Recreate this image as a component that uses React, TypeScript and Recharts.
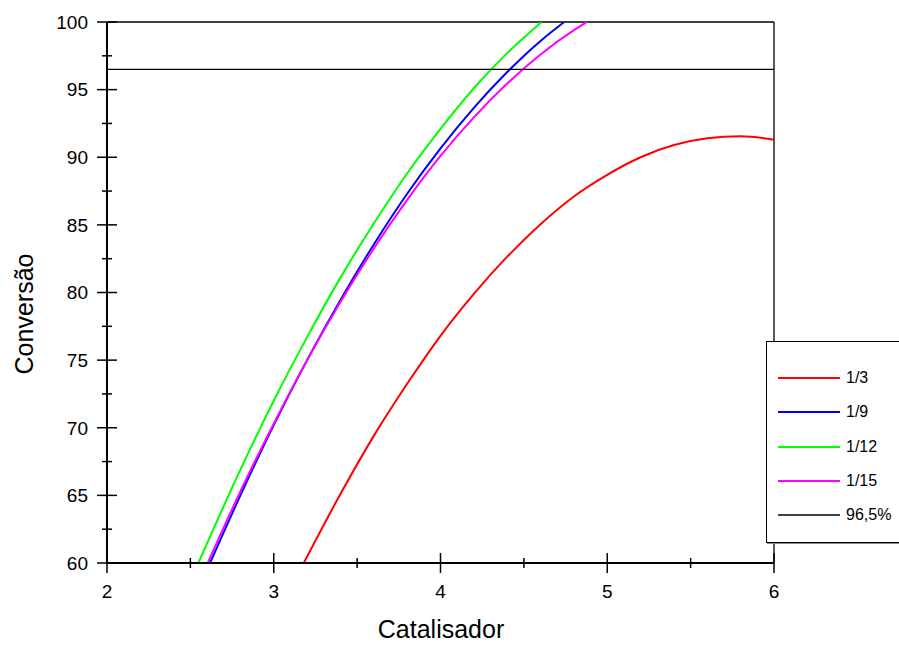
import React from 'react';
import { LineChart, Line, XAxis, YAxis, ReferenceLine } from 'recharts';

// Conversão versus catalisador for four molar ratios, plus the 96,5% target
const red13 = [
  { x: 3.18, y: 60 }, { x: 3.4, y: 65.1 }, { x: 3.6, y: 69.4 }, { x: 3.8, y: 73.25 },
  { x: 4.0, y: 76.8 }, { x: 4.2, y: 79.9 }, { x: 4.4, y: 82.65 }, { x: 4.6, y: 85.05 },
  { x: 4.8, y: 87.1 }, { x: 5.0, y: 88.7 }, { x: 5.2, y: 90.0 }, { x: 5.4, y: 90.9 },
  { x: 5.6, y: 91.4 }, { x: 5.8, y: 91.55 }, { x: 6.0, y: 91.3 },
];
const blue19 = [
  { x: 2.618, y: 60 }, { x: 2.8, y: 65.0 }, { x: 3.0, y: 70.2 }, { x: 3.2, y: 75.0 },
  { x: 3.4, y: 79.45 }, { x: 3.6, y: 83.55 }, { x: 3.8, y: 87.3 }, { x: 4.0, y: 90.65 },
  { x: 4.2, y: 93.65 }, { x: 4.4, y: 96.3 }, { x: 4.6, y: 98.6 }, { x: 4.742, y: 100 },
];
const green112 = [
  { x: 2.548, y: 60 }, { x: 2.8, y: 66.9 }, { x: 3.0, y: 72.0 }, { x: 3.2, y: 76.7 },
  { x: 3.4, y: 81.1 }, { x: 3.6, y: 85.1 }, { x: 3.8, y: 88.8 }, { x: 4.0, y: 92.1 },
  { x: 4.2, y: 95.1 }, { x: 4.4, y: 97.7 }, { x: 4.607, y: 100 },
];
const magenta115 = [
  { x: 2.604, y: 60 }, { x: 2.8, y: 65.3 }, { x: 3.0, y: 70.3 }, { x: 3.2, y: 75.0 },
  { x: 3.4, y: 79.3 }, { x: 3.6, y: 83.25 }, { x: 3.8, y: 86.85 }, { x: 4.0, y: 90.1 },
  { x: 4.2, y: 92.95 }, { x: 4.4, y: 95.45 }, { x: 4.6, y: 97.6 }, { x: 4.8, y: 99.4 },
  { x: 4.877, y: 100 },
];
const target = [{ x: 2, y: 96.5 }, { x: 6, y: 96.5 }];

const seriesNames = ['1/3', '1/9', '1/12', '1/15', '96,5%'];
const seriesColors = ['#ff0000', '#0000ff', '#00ff00', '#ff00ff', '#000000'];
const seriesData = [red13, blue19, green112, magenta115, target];

const xTicks = [2, 2.5, 3, 3.5, 4, 4.5, 5, 5.5, 6];
const yTicks = [60, 62.5, 65, 67.5, 70, 72.5, 75, 77.5, 80, 82.5, 85, 87.5, 90, 92.5, 95, 97.5, 100];

const FONT = 'Arial, "Liberation Sans", sans-serif';

const XTick = (props: any) => {
  const { x, y, payload } = props;
  const v = payload.value as number;
  const major = Number.isInteger(v);
  const len = major ? 10 : 5;
  return (
    <g>
      <line x1={x} x2={x} y1={y - len} y2={y + len} stroke="#000" strokeWidth={1.5} />
      {major && (
        <text x={x} y={y + 35} textAnchor="middle" fontSize={19} fontFamily={FONT} fill="#000">
          {v}
        </text>
      )}
    </g>
  );
};

const YTick = (props: any) => {
  const { x, y, payload } = props;
  const v = payload.value as number;
  const major = v % 5 === 0;
  const len = major ? 10 : 5;
  return (
    <g>
      <line x1={x - len} x2={x + len} y1={y} y2={y} stroke="#000" strokeWidth={1.5} />
      {major && (
        <text x={x - 19} y={y + 6.8} textAnchor="end" fontSize={19} fontFamily={FONT} fill="#000">
          {v}
        </text>
      )}
    </g>
  );
};

function LegendBox() {
  return (
    <div
      style={{
        position: 'absolute',
        left: 766,
        top: 341,
        width: 140,
        height: 202,
        border: '1px solid #000',
        boxShadow: '1px 1px 0 #888',
        background: '#fff',
        boxSizing: 'border-box',
        fontFamily: FONT,
      }}
    >
      {seriesNames.map((name, i) => (
        <div
          key={name}
          style={{ position: 'absolute', left: 11, top: 26 + i * 34.3, height: 20, display: 'flex', alignItems: 'center' }}
        >
          <svg width={62} height={4} style={{ display: 'block' }}>
            <line x1={0} x2={62} y1={2} y2={2} stroke={seriesColors[i]} strokeWidth={i === 4 ? 1.5 : 2} />
          </svg>
          <span style={{ marginLeft: 6, fontSize: 16, color: '#000', lineHeight: '20px' }}>{name}</span>
        </div>
      ))}
    </div>
  );
}

export default function App() {
  return (
    <div style={{ position: 'absolute', left: 0, top: 0, width: 899, height: 646, overflow: 'hidden', background: '#fff' }}>
      <LineChart width={899} height={646} margin={{ top: 22, right: 125, bottom: 0, left: 0 }}>
        <XAxis
          type="number"
          dataKey="x"
          domain={[2, 6]}
          ticks={xTicks}
          interval={0}
          height={83}
          tickSize={0}
          tickMargin={0}
          tickLine={false}
          axisLine={{ stroke: '#000', strokeWidth: 2 }}
          tick={<XTick />}
          allowDataOverflow
          label={{
            content: () => (
              <text x={441} y={638} textAnchor="middle" fontSize={25} fontFamily={FONT} fill="#000">
                Catalisador
              </text>
            ),
          }}
        />
        <YAxis
          type="number"
          dataKey="y"
          domain={[60, 100]}
          ticks={yTicks}
          interval={0}
          width={107}
          tickSize={0}
          tickMargin={0}
          tickLine={false}
          axisLine={{ stroke: '#000', strokeWidth: 2 }}
          tick={<YTick />}
          allowDataOverflow
          label={{
            content: () => (
              <text
                x={33}
                y={314}
                transform="rotate(-90, 33, 314)"
                textAnchor="middle"
                fontSize={25}
                fontFamily={FONT}
                fill="#000"
              >
                Conversão
              </text>
            ),
          }}
        />
        <ReferenceLine y={100} stroke="#000" strokeWidth={1.3} />
        <ReferenceLine x={6} stroke="#000" strokeWidth={1.3} />
        {seriesNames.map((name, i) => (
          <Line
            key={name}
            data={seriesData[i]}
            dataKey="y"
            name={name}
            type={i === 4 ? 'linear' : 'monotone'}
            stroke={seriesColors[i]}
            strokeWidth={i === 4 ? 1.3 : 2}
            dot={false}
            isAnimationActive={false}
          />
        ))}
      </LineChart>
      <LegendBox />
    </div>
  );
}
